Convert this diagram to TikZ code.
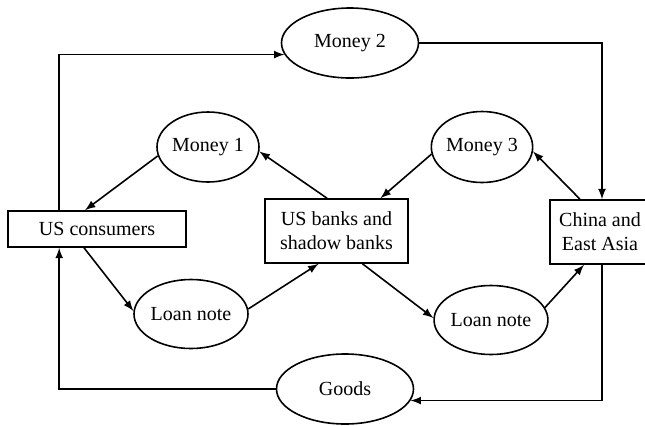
\documentclass[tikz,border=0pt]{standalone}
\usepackage{fontspec}
\setmainfont{Liberation Serif}
\usetikzlibrary{shapes.geometric}

\begin{document}
\begin{tikzpicture}[x=0.5pt,y=-0.5pt,line width=0.8pt,>=latex,
    agent/.style={draw,rectangle,align=center,inner sep=2pt},
    flow/.style={draw,ellipse,inner sep=0pt}]
  \useasboundingbox (0,0) rectangle (645,425) ;

  % acteurs
  \node[agent,minimum width=89pt,minimum height=18pt] (usc) at (97,229)
    {US consumers} ;
  \node[agent,minimum width=71.5pt,minimum height=32pt] (usb) at (336.5,231)
    {US banks and\\shadow banks} ;
  \node[agent,minimum width=50pt,minimum height=32pt] (cea) at (600,232)
    {China and\\East Asia} ;

  % flux
  \node[flow,minimum width=68.5pt,minimum height=35pt] (m2) at (350,43) {Money 2} ;
  \node[flow,minimum width=51pt,minimum height=35pt] (m1) at (208,147) {Money 1} ;
  \node[flow,minimum width=46.5pt,minimum height=35.5pt] (m3) at (482,147) {Money 3} ;
  \node[flow,minimum width=57pt,minimum height=34.5pt] (ln1) at (191,314) {Loan note} ;
  \node[flow,minimum width=54.5pt,minimum height=34.5pt] (ln2) at (491,320) {Loan note} ;
  \node[flow,minimum width=68.5pt,minimum height=35pt] (gds) at (345,389) {Goods} ;

  \draw[->] ([xshift=26pt]usc.north west) |- (m2.190) ;
  \draw[->] (m2.east) -| ([xshift=1pt]cea.north) ;
  \draw[->] (m1.190) -- ([xshift=-6pt]usc.north) ;
  \draw[->] ([xshift=-4.75pt]usb.north) -- (m1.-5) ;
  \draw[->] (m3.188) -- ([xshift=22pt]usb.north) ;
  \draw[->] ([xshift=-10pt]cea.north) -- (m3.-5) ;
  \draw[->] ([xshift=-6.5pt]usc.south) -- (ln1.177) ;
  \draw[->] (ln1.5) -- ([xshift=-9pt]usb.south) ;
  \draw[->] ([xshift=13pt]usb.south) -- (ln2.178) ;
  \draw[->] (ln2.13) -- ([xshift=-8pt]cea.south) ;
  \draw[->] ([xshift=1pt]cea.south) |- (gds.350) ;
  \draw[->] (gds.west) -| ([xshift=26pt]usc.south west) ;
\end{tikzpicture}
\end{document}
